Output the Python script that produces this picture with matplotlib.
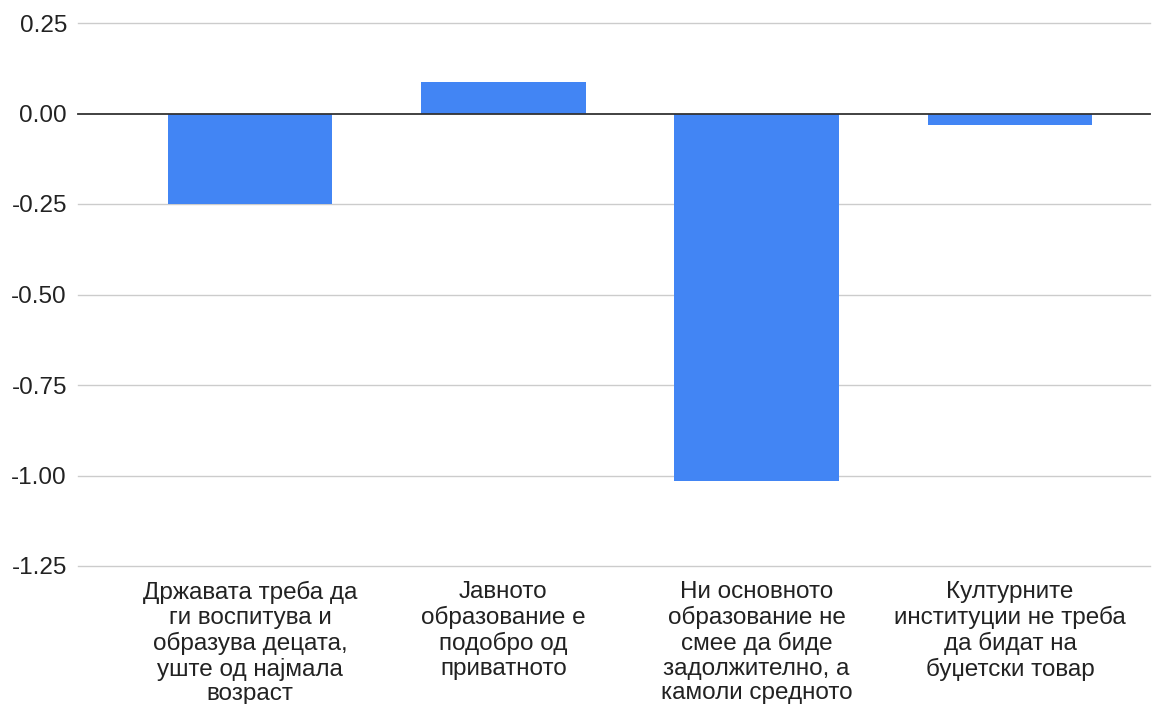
import numpy as np
import matplotlib.pyplot as plt

# statements and their scores
statements = [
    "Државата треба да\nги воспитува и\nобразува децата,\nуште од најмала\nвозраст",
    "Јавното\nобразование е\nподобро од\nприватното",
    "Ни основното\nобразование не\nсмее да биде\nзадолжително, а\nкамоли средното",
    "Културните\nинституции не треба\nда бидат на\nбуџетски товар",
]
scores = [-0.25, 0.088, -1.016, -0.032]
y_ticks = [0.25, 0.00, -0.25, -0.50, -0.75, -1.00, -1.25]

plt.rcParams['font.family'] = ['Liberation Sans', 'DejaVu Sans']

W, H = 1167, 704
fig = plt.figure(figsize=(W / 100, H / 100), dpi=100)
left, right, top, bottom = 78, 1150, 23, 566
ax = fig.add_axes([left / W, 1 - bottom / H, (right - left) / W, (bottom - top) / H])

x = np.arange(len(scores))
ax.bar(x, scores, width=0.65, color='#4285F4', zorder=3)

# light grid, dark baseline at zero
for t in y_ticks:
    if t == 0:
        ax.axhline(t, color='#333333', lw=1.3, zorder=4, clip_on=False)
    else:
        ax.axhline(t, color='#cccccc', lw=1.0, zorder=1, clip_on=False)

step = (1010 - 250) / 3
ax.set_xlim(-(250 - left) / step, 3 + (right - 1010) / step)
ax.set_ylim(-1.25, 0.25)

ax.set_yticks(y_ticks)
ax.set_yticklabels([f"{t:.2f}" for t in y_ticks])
ax.set_xticks(x)
ax.set_xticklabels(statements, linespacing=1.15)

ax.tick_params(axis='both', length=0, labelsize=17.5, colors='#222222')
ax.tick_params(axis='y', pad=8)
ax.tick_params(axis='x', pad=11)
for s in ax.spines.values():
    s.set_visible(False)

fig.savefig('out.png', dpi=100, facecolor='white')
